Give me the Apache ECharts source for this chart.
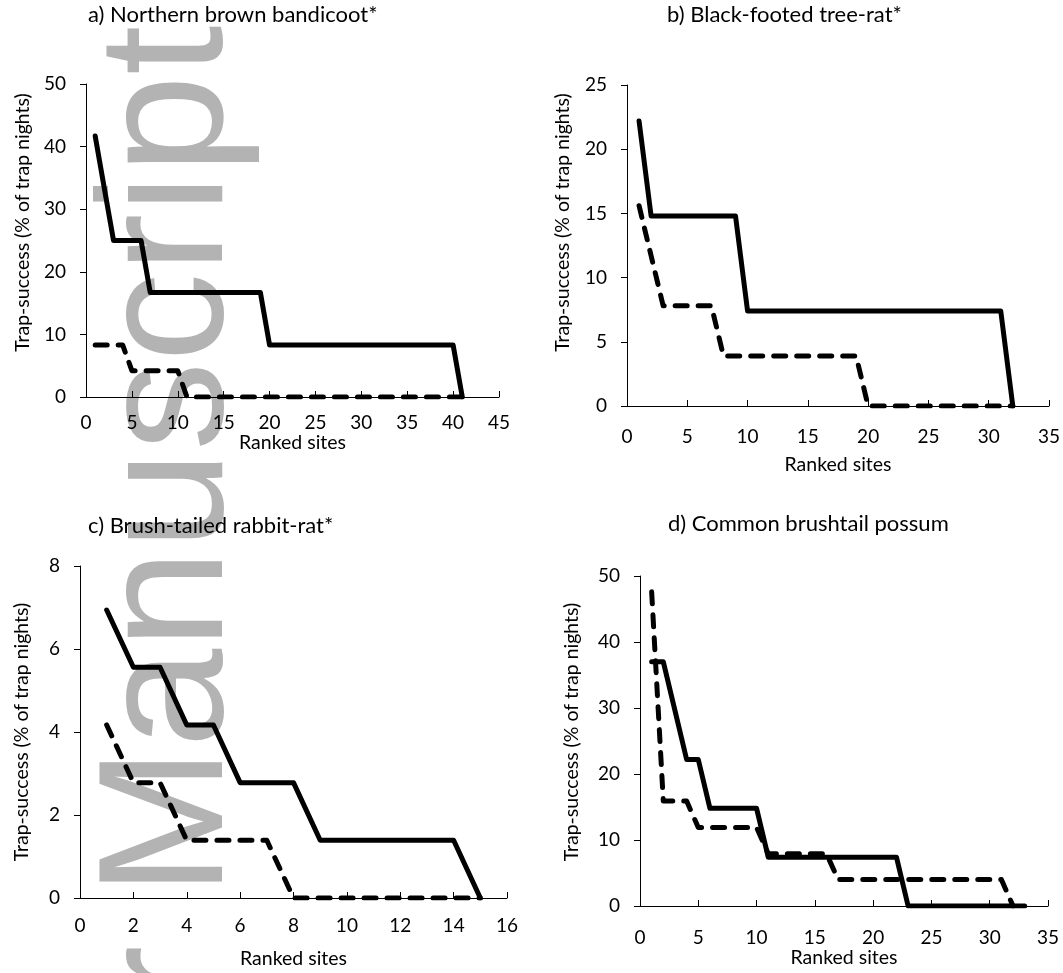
<!DOCTYPE html>
<html>
<head>
<meta charset="utf-8">
<script src="https://cdn.jsdelivr.net/npm/echarts@6/dist/echarts.min.js"></script>
<style>
  html, body { margin: 0; padding: 0; background: #fff; }
  #chart { width: 1063px; height: 973px; }
</style>
</head>
<body>
<div id="chart"></div>
<script>
  // trap success per ranked site, solid = first survey, dashed = second survey
  var titles = ['a) Northern brown bandicoot*', 'b) Black-footed tree-rat*',
    'c) Brush-tailed rabbit-rat*', 'd) Common brushtail possum'];

  var solidA = [41.7, 33.3, 25, 25, 25, 25, 16.7, 16.7, 16.7, 16.7, 16.7, 16.7, 16.7, 16.7, 16.7, 16.7,
    16.7, 16.7, 16.7, 8.3, 8.3, 8.3, 8.3, 8.3, 8.3, 8.3, 8.3, 8.3, 8.3, 8.3, 8.3, 8.3, 8.3, 8.3, 8.3,
    8.3, 8.3, 8.3, 8.3, 8.3, 0];
  var dashA = [8.3, 8.3, 8.3, 8.3, 4.2, 4.2, 4.2, 4.2, 4.2, 4.2, 0, 0, 0, 0, 0, 0, 0, 0, 0, 0, 0, 0,
    0, 0, 0, 0, 0, 0, 0, 0, 0, 0, 0, 0, 0, 0, 0, 0, 0, 0, 0];

  var solidB = [22.2, 14.8, 14.8, 14.8, 14.8, 14.8, 14.8, 14.8, 14.8, 7.4, 7.4, 7.4, 7.4, 7.4, 7.4,
    7.4, 7.4, 7.4, 7.4, 7.4, 7.4, 7.4, 7.4, 7.4, 7.4, 7.4, 7.4, 7.4, 7.4, 7.4, 7.4, 0];
  var dashB = [15.6, 11.7, 7.8, 7.8, 7.8, 7.8, 7.8, 3.9, 3.9, 3.9, 3.9, 3.9, 3.9, 3.9, 3.9, 3.9, 3.9,
    3.9, 3.9, 0, 0, 0, 0, 0, 0, 0, 0, 0, 0, 0, 0, 0];

  var solidC = [6.94, 5.56, 5.56, 4.17, 4.17, 2.78, 2.78, 2.78, 1.39, 1.39, 1.39, 1.39, 1.39, 1.39, 0];
  var dashC = [4.17, 2.78, 2.78, 1.39, 1.39, 1.39, 1.39, 0, 0, 0, 0, 0, 0, 0, 0];

  var solidD = [37.0, 37.0, 29.6, 22.2, 22.2, 14.8, 14.8, 14.8, 14.8, 14.8, 7.4, 7.4, 7.4, 7.4, 7.4,
    7.4, 7.4, 7.4, 7.4, 7.4, 7.4, 7.4, 0, 0, 0, 0, 0, 0, 0, 0, 0, 0, 0];
  var dashD = [47.6, 15.9, 15.9, 15.9, 11.9, 11.9, 11.9, 11.9, 11.9, 11.9, 7.9, 7.9, 7.9, 7.9, 7.9,
    7.9, 4.0, 4.0, 4.0, 4.0, 4.0, 4.0, 4.0, 4.0, 4.0, 4.0, 4.0, 4.0, 4.0, 4.0, 4.0, 0];

  var xMax = [45, 35, 16, 35];
  var xStep = [5, 5, 2, 5];
  var yMax = [50, 25, 8, 50];
  var yStep = [10, 5, 2, 10];

  var xName = 'Ranked sites';
  var yName = 'Trap-success (% of trap nights)';
  var font = 'Lato';

  var chart = echarts.init(document.getElementById('chart'));

  var grids = [
    { left: 86, top: 84, width: 413, height: 313 },
    { left: 627, top: 85, width: 423, height: 321 },
    { left: 80, top: 566, width: 427, height: 332 },
    { left: 640, top: 576, width: 408, height: 330 }
  ];
  var titlePos = [[88, 4], [667, 4], [88, 515], [668, 513]];
  var xLabelMargin = [16, 21, 18, 22];
  var xNameGap = [29, 49, 51, 41];
  var yNameGap = [53, 54, 48, 58];
  var yNameShift = [36, 46, 0, 18];

  function toPoints(arr) {
    return arr.map(function (v, i) { return [i + 1, v]; });
  }

  var xAxes = [], yAxes = [], series = [], titleList = [];
  var pairs = [[solidA, dashA], [solidB, dashB], [solidC, dashC], [solidD, dashD]];

  for (var k = 0; k < 4; k++) {
    titleList.push({
      text: titles[k],
      left: titlePos[k][0],
      top: titlePos[k][1],
      padding: 0,
      textStyle: { fontFamily: font, fontSize: 22, fontWeight: 'normal', color: '#000' }
    });
    xAxes.push({
      gridIndex: k,
      type: 'value',
      min: 0,
      max: xMax[k],
      interval: xStep[k],
      name: xName,
      nameLocation: 'middle',
      nameGap: xNameGap[k],
      nameTextStyle: { fontFamily: font, fontSize: 19.5, color: '#000' },
      axisLine: { lineStyle: { color: '#000', width: 1 } },
      axisTick: { inside: true, length: 6, lineStyle: { color: '#000' } },
      axisLabel: { fontFamily: font, fontSize: 19, color: '#000', margin: xLabelMargin[k] },
      splitLine: { show: false }
    });
    yAxes.push({
      gridIndex: k,
      type: 'value',
      min: 0,
      max: yMax[k],
      interval: yStep[k],
      name: yName,
      nameLocation: 'middle',
      nameGap: yNameGap[k],
      nameRotate: 90,
      nameTextStyle: { fontFamily: font, fontSize: 19.5, color: '#000', padding: [0, 0, 0, yNameShift[k]] },
      axisLine: { show: true, lineStyle: { color: '#000', width: 1 } },
      axisTick: { show: true, length: 6, lineStyle: { color: '#000' } },
      axisLabel: { fontFamily: font, fontSize: 19, color: '#000', margin: 20 },
      splitLine: { show: false }
    });
    series.push({
      type: 'line',
      xAxisIndex: k,
      yAxisIndex: k,
      data: toPoints(pairs[k][0]),
      symbol: 'none',
      lineStyle: { color: '#000', width: 5, cap: 'round', join: 'round' },
      z: 3
    });
    series.push({
      type: 'line',
      xAxisIndex: k,
      yAxisIndex: k,
      data: toPoints(pairs[k][1]),
      symbol: 'none',
      lineStyle: { color: '#000', width: 5, type: [12, 11], cap: 'round', join: 'round' },
      z: 3
    });
  }

  chart.setOption({
    animation: false,
    backgroundColor: '#fff',
    title: titleList,
    grid: grids,
    xAxis: xAxes,
    yAxis: yAxes,
    series: series,
    graphic: {
      z: -10,
      elements: [{
        type: 'text',
        x: 173,
        y: 896 + 574,
        rotation: Math.PI / 2,
        z: -10,
        silent: true,
        style: {
          text: 'Author Manuscript',
          font: '178px "Liberation Sans"',
          fill: '#b3b3b3',
          align: 'left',
          verticalAlign: 'middle'
        }
      }]
    }
  });
</script>
</body>
</html>
